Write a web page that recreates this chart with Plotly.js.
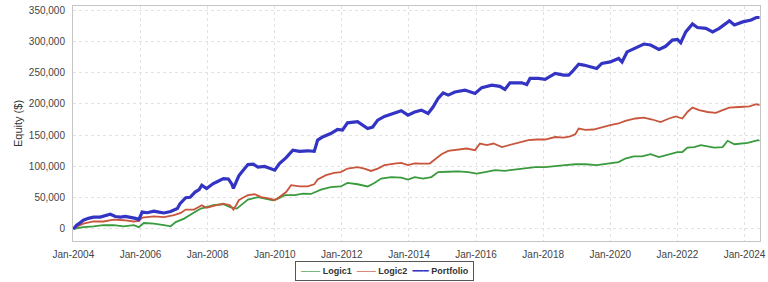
<!DOCTYPE html>
<html>
<head>
<meta charset="utf-8">
<script src="https://cdn.plot.ly/plotly-3.0.1.min.js"></script>
<style>html,body{margin:0;padding:0;background:#fff;}#chart{width:768px;height:282px;}</style>
</head>
<body>
<div id="chart"></div>
<script>
// Time positions in decimal years, values in thousands of dollars
const portfolioT = [2004.0,2004.1,2004.2,2004.3,2004.45,2004.6,2004.8,2004.95,2005.1,2005.25,2005.4,2005.55,2005.7,2005.85,2005.95,2006.05,2006.2,2006.4,2006.55,2006.7,2006.9,2007.1,2007.18,2007.35,2007.48,2007.63,2007.75,2007.83,2007.97,2008.17,2008.3,2008.47,2008.62,2008.72,2008.77,2008.85,2008.93,2009.0,2009.1,2009.2,2009.36,2009.5,2009.7,2009.85,2010.0,2010.14,2010.34,2010.54,2010.74,2010.98,2011.18,2011.28,2011.43,2011.67,2011.87,2012.02,2012.17,2012.47,2012.62,2012.77,2012.92,2013.07,2013.27,2013.47,2013.77,2013.97,2014.17,2014.37,2014.57,2014.72,2014.87,2015.02,2015.17,2015.37,2015.67,2015.97,2016.17,2016.47,2016.71,2016.86,2017.01,2017.36,2017.51,2017.61,2017.86,2018.06,2018.21,2018.36,2018.61,2018.76,2018.86,2019.06,2019.21,2019.4,2019.6,2019.75,2020.0,2020.25,2020.35,2020.5,2020.75,2021.0,2021.2,2021.45,2021.65,2021.85,2022.0,2022.1,2022.25,2022.45,2022.6,2022.85,2023.05,2023.25,2023.45,2023.55,2023.7,2023.95,2024.2,2024.35,2024.45];
const portfolioV = [0,6,10,14,17,19,19,21,23.5,20,19,20,19,17,15,27,26,28.5,27,25.6,28,32.6,40.6,50,50.6,59,63,70,64.6,72.6,76,80.6,80,72,65,75,85,90,97,103,103.5,99,100,96.6,94,104.6,114,126,124,125,124,142,147,152.6,159,158,169.6,171.6,166,160.6,163,174,180,183.5,189,182,187,190,184.6,195,208.6,217.6,214,219,222,216.6,226,230,228,223,233.6,233.6,231,240.6,240.6,239,244,248.6,246,246,251,263.5,262,259,256.6,264.6,267,272.6,267,283,288.6,295.6,294,287,292,302,303,297.6,315,327.6,322,320.6,315,320.6,328.6,332.8,326,331,334,338,338];

const logic2T = [2004.0,2004.15,2004.3,2004.6,2004.9,2005.2,2005.5,2005.8,2005.95,2006.05,2006.4,2006.7,2007.0,2007.2,2007.35,2007.6,2007.83,2007.97,2008.27,2008.47,2008.67,2008.77,2008.85,2008.93,2009.05,2009.2,2009.4,2009.6,2009.85,2010.0,2010.14,2010.34,2010.49,2010.74,2010.98,2011.18,2011.28,2011.53,2011.77,2011.97,2012.17,2012.47,2012.67,2012.87,2013.07,2013.27,2013.57,2013.77,2013.97,2014.17,2014.37,2014.62,2014.77,2014.97,2015.17,2015.47,2015.72,2015.97,2016.12,2016.32,2016.52,2016.77,2016.97,2017.17,2017.36,2017.56,2017.81,2018.06,2018.36,2018.61,2018.81,2018.96,2019.06,2019.26,2019.5,2019.75,2020.0,2020.25,2020.45,2020.75,2021.0,2021.25,2021.5,2021.75,2021.95,2022.15,2022.3,2022.45,2022.65,2022.9,2023.15,2023.35,2023.55,2023.85,2024.15,2024.35,2024.45];
const logic2V = [0,5,8.6,12.3,12,15,14,12,12.8,18,20,19,22,25.6,31,31,38,34,38,40.6,38,31,38,46,50,54,55.5,51,48.6,46,51,59,70,68,68,71.5,79,86,89.6,91,96.6,99,96.6,92.8,96.6,102,104.6,105.6,102,105,104.6,104.6,111,119.5,124.8,127,128.6,126,136.6,134,136.6,131,134,136.6,139,142,143,143,147,146,148,151.5,160.6,158.5,159,163,166,168.6,172.8,176.6,178,175,171,176.6,180,176.6,187,194,190,187,185.6,190,194,195,196,199.5,198];

const logic1T = [2004.0,2004.15,2004.3,2004.6,2004.9,2005.2,2005.5,2005.8,2005.95,2006.1,2006.4,2006.7,2006.9,2007.05,2007.3,2007.55,2007.8,2007.97,2008.17,2008.47,2008.67,2008.87,2009.0,2009.2,2009.5,2009.7,2009.95,2010.1,2010.3,2010.6,2010.84,2011.08,2011.38,2011.67,2011.97,2012.17,2012.47,2012.77,2012.97,2013.17,2013.47,2013.77,2013.97,2014.17,2014.42,2014.67,2014.87,2015.17,2015.47,2015.77,2016.02,2016.27,2016.57,2016.86,2017.17,2017.46,2017.76,2018.06,2018.36,2018.66,2018.96,2019.26,2019.6,2020.0,2020.25,2020.45,2020.7,2020.95,2021.2,2021.45,2021.7,2022.0,2022.15,2022.3,2022.5,2022.7,2023.1,2023.35,2023.5,2023.7,2024.1,2024.4,2024.45];
const logic1V = [0,2,3,4.3,6,6,4.3,6,3,9.6,8.6,6,4.3,11,16.6,24.6,32.6,35,38,39.5,35,32.6,38,47,51,48.6,46,48.6,54,54,56.6,56,63,67,68,73.6,71.5,68,73.6,80.6,83,82,79,83,80.6,83,91,91.5,92,91,88.6,91,94,93,95,98,99,99,100,102,103.5,103.5,102,104.6,107,112.6,116,116,119.5,115,119,123,123,130,131,134,130,131,141,135.5,137.6,142,141];

const seriesNames = ["Logic1", "Logic2", "Portfolio"];
const seriesColors = ["#3a9a3e", "#c9553c", "#3434c4"];
const yTickVals = [0,50000,100000,150000,200000,250000,300000,350000];
const xTickStart = "2004-01-01";

function toDate(t) {
  const y = Math.floor(t);
  const a = Date.UTC(y, 0, 1), b = Date.UTC(y + 1, 0, 1);
  return new Date(a + (t - y) * (b - a)).toISOString().slice(0, 10);
}
const k = v => v * 1000;

const traces = [
  {x: logic1T.map(toDate), y: logic1V.map(k), name: seriesNames[0], type: 'scatter', mode: 'lines',
   line: {color: seriesColors[0], width: 1.8}},
  {x: logic2T.map(toDate), y: logic2V.map(k), name: seriesNames[1], type: 'scatter', mode: 'lines',
   line: {color: seriesColors[1], width: 1.8}},
  {x: portfolioT.map(toDate), y: portfolioV.map(k), name: seriesNames[2], type: 'scatter', mode: 'lines',
   line: {color: seriesColors[2], width: 3.2}}
];

// Compact legend box (text-based) like the original chart's legend
const swatches = ['\u2500\u2500\u2500', '\u2500\u2500\u2500', '\u2501\u2501\u2501'];
const legendText = seriesNames.map((n, i) =>
  '<span style="color:' + seriesColors[i] + '">' + swatches[i] + '</span> <b>' + n + '</b>'
).join('  ');

const layout = {
  width: 768, height: 282,
  margin: {l: 73, r: 8, t: 6, b: 41, pad: 0},
  paper_bgcolor: '#ffffff', plot_bgcolor: '#ffffff',
  font: {family: 'Liberation Sans, Arial, DejaVu Sans, sans-serif', size: 10, color: '#444444'},
  showlegend: false,
  annotations: [{
    xref: 'paper', yref: 'paper', x: 0.4527, y: -0.127, xanchor: 'center', yanchor: 'middle',
    text: legendText, showarrow: false, align: 'left',
    font: {family: 'Liberation Sans, DejaVu Sans, sans-serif', size: 9, color: '#333333'},
    bordercolor: '#555555', borderwidth: 1, borderpad: 4, bgcolor: '#ffffff'
  }],
  xaxis: {type: 'date', range: ['2003-12-28', '2024-06-18'],
    tick0: xTickStart, dtick: 'M24', tickformat: '%b-%Y',
    showgrid: true, gridcolor: '#e2e2e2', griddash: 'dot', gridwidth: 1,
    showline: true, linecolor: '#c4c4c4', linewidth: 1, mirror: true,
    zeroline: false, ticks: '', ticklabelstandoff: 4,
    tickfont: {size: 10, color: '#444444'}},
  yaxis: {range: [-19200, 356400], tickvals: yTickVals, tickformat: ',d',
    showgrid: true, gridcolor: '#e2e2e2', griddash: 'dot', gridwidth: 1,
    showline: true, linecolor: '#c4c4c4', linewidth: 1, mirror: true,
    zeroline: false, ticks: '', ticklabelstandoff: 5,
    tickfont: {size: 10, color: '#444444'},
    title: {text: 'Equity ($)', font: {size: 11, color: '#333333'}, standoff: 3}}
};

Plotly.newPlot('chart', traces, layout, {displayModeBar: false, staticPlot: true});
</script>
</body>
</html>
